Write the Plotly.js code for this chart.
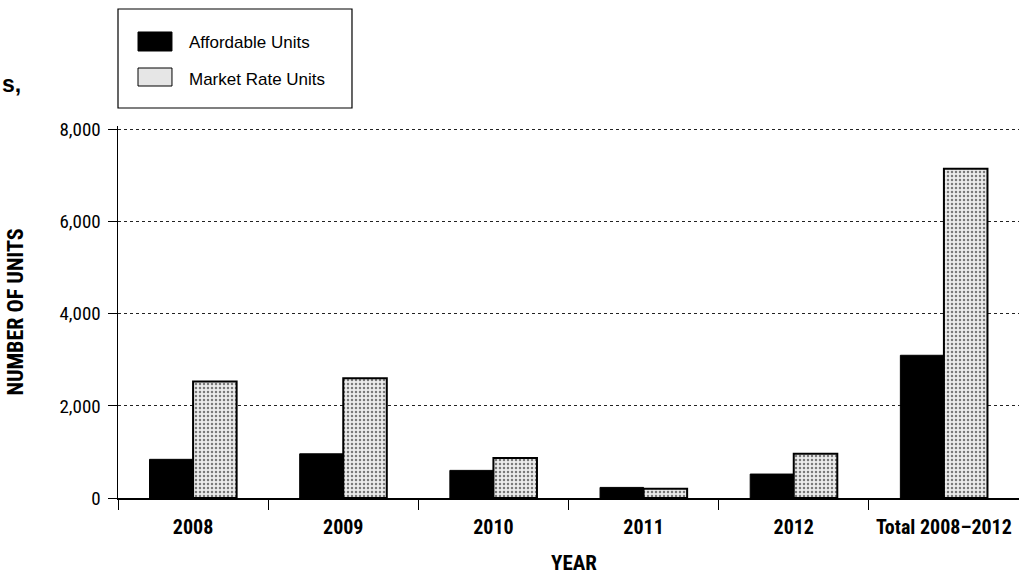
<!DOCTYPE html>
<html>
<head>
<meta charset="utf-8">
<script src="https://cdn.plot.ly/plotly-3.0.1.min.js"></script>
<style>html,body{margin:0;padding:0;background:#fff;}#chart{width:1019px;height:575px;}</style>
</head>
<body>
<div id="chart"></div>
<script>
const categories = ["2008", "2009", "2010", "2011", "2012", "Total 2008\u20132012"];
const affordableUnits = [840, 960, 600, 230, 520, 3100];
const marketRateUnits = [2530, 2600, 870, 200, 960, 7150];
const yTickValues = [0, 2000, 4000, 6000, 8000];
const yTickLabels = ["0", "2,000", "4,000", "6,000", "8,000"];
const seriesNames = ["Affordable Units", "Market Rate Units"];

const NARROW = "Liberation Sans Narrow, Arial Narrow, Roboto Condensed, Arial, sans-serif";
const SANS = "Liberation Sans, Arial, Helvetica, sans-serif";

const marketPattern = {shape: ".", fgcolor: "#7a7a7a", bgcolor: "#ececec", size: 4, solidity: 0.3};

const traces = [
  {
    type: "bar",
    name: seriesNames[0],
    x: categories,
    y: affordableUnits,
    marker: {color: "#000000", line: {color: "#000000", width: 1}},
    hoverinfo: "skip"
  },
  {
    type: "bar",
    name: seriesNames[1],
    x: categories,
    y: marketRateUnits,
    marker: {
      color: "#e4e4e4",
      line: {color: "#000000", width: 2},
      pattern: marketPattern
    },
    hoverinfo: "skip"
  }
];

// custom legend (paper coordinates, plot area spans 901 x 372 px)
const legendShapes = [
  {type: "rect", xref: "paper", yref: "paper", x0: 0, x1: 0.2597, y0: 1.0484, y1: 1.3145,
   line: {color: "#000000", width: 1.2}, fillcolor: "rgba(255,255,255,0)"},
  {type: "rect", xref: "paper", yref: "paper", x0: 0.0222, x1: 0.0599, y0: 1.2016, y1: 1.2527,
   line: {color: "#000000", width: 1}, fillcolor: "#000000"},
  {type: "rect", xref: "paper", yref: "paper", x0: 0.0222, x1: 0.0599, y0: 1.1075, y1: 1.1559,
   line: {color: "#000000", width: 1}, fillcolor: "#e6e6e6"}
];

const layout = {
  width: 1019,
  height: 575,
  margin: {l: 118, r: 0, t: 126, b: 77},
  paper_bgcolor: "#ffffff",
  plot_bgcolor: "#ffffff",
  font: {family: NARROW, color: "#000000", size: 16},
  barmode: "group",
  bargap: 0.42,
  bargroupgap: 0,
  showlegend: false,
  shapes: legendShapes,
  xaxis: {
    type: "category",
    tickson: "boundaries",
    ticks: "outside",
    ticklen: 10,
    tickcolor: "#000000",
    tickwidth: 1,
    ticklabelstandoff: 10,
    showline: true,
    linecolor: "#000000",
    linewidth: 2,
    showgrid: false,
    zeroline: false,
    automargin: false,
    tickfont: {family: NARROW, size: 20, color: "#000000", weight: "bold"}
  },
  yaxis: {
    range: [0, 8080],
    tickvals: yTickValues,
    ticktext: yTickLabels,
    ticks: "outside",
    ticklen: 9,
    tickcolor: "#000000",
    ticklabelstandoff: 3,
    showline: true,
    linecolor: "#000000",
    linewidth: 1.5,
    showgrid: true,
    gridcolor: "#222222",
    griddash: "3px,3px",
    gridwidth: 1,
    zeroline: false,
    automargin: false,
    tickfont: {family: NARROW, size: 19, color: "#000000"},
    title: {text: "NUMBER OF UNITS", font: {family: NARROW, size: 22, color: "#000000", weight: "bold"}, standoff: 29}
  },
  annotations: [
    {xref: "paper", yref: "paper", x: 0.5066, y: -0.1747, xanchor: "center", yanchor: "middle",
     text: "YEAR", showarrow: false, font: {family: NARROW, size: 21, color: "#000000", weight: "bold"}},
    {xref: "paper", yref: "paper", x: 0.0766, y: 1.2258, xanchor: "left", yanchor: "middle",
     text: seriesNames[0], showarrow: false, font: {family: SANS, size: 17, color: "#000000"}},
    {xref: "paper", yref: "paper", x: 0.0766, y: 1.1237, xanchor: "left", yanchor: "middle",
     text: seriesNames[1], showarrow: false, font: {family: SANS, size: 17, color: "#000000"}},
    {xref: "paper", yref: "paper", x: -0.131, y: 1.1129, xanchor: "left", yanchor: "middle",
     text: "<b>s,</b>", showarrow: false, font: {family: SANS, size: 23, color: "#000000"}}
  ]
};

Plotly.newPlot("chart", traces, layout, {staticPlot: true, displayModeBar: false});
</script>
</body>
</html>
